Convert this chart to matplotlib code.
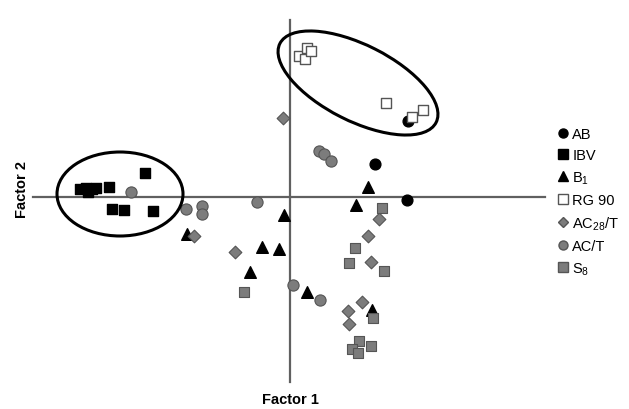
import matplotlib
matplotlib.use("Agg")
import matplotlib.pyplot as plt
from matplotlib.patches import Ellipse
from matplotlib.lines import Line2D

plt.rcParams['font.family'] = ['Liberation Sans', 'DejaVu Sans']
plt.rcParams['mathtext.fontset'] = 'custom'
plt.rcParams['mathtext.rm'] = 'Liberation Sans'
plt.rcParams['mathtext.it'] = 'Liberation Sans:italic'

# factor scores (factor 1, factor 2) per group
ab_x = [2.36, 1.70, 2.34]
ab_y = [1.52, 0.66, -0.06]

ibv_x = [-4.20, -4.08, -3.96, -4.04, -3.88, -3.62, -2.90, -3.56, -3.32, -2.74]
ibv_y = [0.16, 0.18, 0.16, 0.10, 0.18, 0.20, 0.48, -0.24, -0.26, -0.28]

b1_x = [-2.06, -0.12, -0.56, -0.22, -0.80, 1.56, 1.32, 0.34, 1.64]
b1_y = [-0.74, -0.36, -1.00, -1.04, -1.50, 0.20, -0.16, -1.90, -2.26]

rg_x = [0.18, 0.30, 0.34, 0.42, 1.92, 2.44, 2.66]
rg_y = [2.82, 2.76, 2.98, 2.92, 1.88, 1.60, 1.74]

ac28_x = [-0.14, -1.92, -1.10, 1.78, 1.56, 1.62, 1.44, 1.16, 1.18]
ac28_y = [1.58, -0.78, -1.10, -0.44, -0.78, -1.30, -2.10, -2.28, -2.54]

act_x = [-3.18, -2.08, -1.76, -1.76, -0.66, 0.06, 0.60, 0.58, 0.68, 0.82]
act_y = [0.10, -0.24, -0.18, -0.34, -0.10, -1.76, -2.06, 0.92, 0.86, 0.72]

s8_x = [-0.92, 1.84, 1.30, 1.18, 1.88, 1.66, 1.38, 1.24, 1.36, 1.62]
s8_y = [-1.90, -0.22, -1.02, -1.32, -1.48, -2.42, -2.88, -3.04, -3.12, -2.98]

labels = ['AB', 'IBV', r'B$_{\mathrm{1}}$', 'RG 90', r'AC$_{\mathrm{28}}$/T', 'AC/T', r'S$_{\mathrm{8}}$']

gray = '#7c7c7c'
gray_edge = '#555555'

fig = plt.figure(figsize=(6.29, 4.10), dpi=100)
ax = fig.add_axes([0, 0, 1, 1])
ax.set_xlim(-5.8, 6.78)
ax.set_ylim(-4.24, 3.96)
ax.axis('off')

# axes cross
ax.plot([-5.14, 5.10], [0, 0], color='#606060', lw=1.6, zorder=1)
ax.plot([0, 0], [3.54, -3.70], color='#606060', lw=1.6, zorder=1)

# cluster ellipses
ax.add_patch(Ellipse((-3.40, 0.06), 2.52, 1.68, fill=False, ec='black', lw=2.2, zorder=4))
ax.add_patch(Ellipse((1.36, 2.28), 3.50, 1.52, angle=-26.8, fill=False, ec='black', lw=2.2, zorder=4))

ax.scatter(ab_x, ab_y, marker='o', s=60, c='black', zorder=3)
ax.scatter(ibv_x, ibv_y, marker='s', s=60, c='black', zorder=3)
ax.scatter(b1_x, b1_y, marker='^', s=70, c='black', zorder=3)
ax.scatter(rg_x, rg_y, marker='s', s=60, facecolors='white', edgecolors=gray_edge, lw=1, zorder=3)
ax.scatter(ac28_x, ac28_y, marker='D', s=42, c=gray, edgecolors=gray_edge, lw=0.8, zorder=3)
ax.scatter(act_x, act_y, marker='o', s=65, c=gray, edgecolors=gray_edge, lw=0.8, zorder=3)
ax.scatter(s8_x, s8_y, marker='s', s=62, c=gray, edgecolors=gray_edge, lw=0.8, zorder=3)

ax.text(0, -4.04, 'Factor 1', ha='center', va='center', fontsize=10.5, fontweight='bold')
ax.text(-5.36, 0.16, 'Factor 2', ha='center', va='center', fontsize=10.5,
        fontweight='bold', rotation=90)

handles = [
    Line2D([], [], ls='', marker='o', ms=6.5, mfc='black', mec='black'),
    Line2D([], [], ls='', marker='s', ms=6.5, mfc='black', mec='black'),
    Line2D([], [], ls='', marker='^', ms=7, mfc='black', mec='black'),
    Line2D([], [], ls='', marker='s', ms=6.5, mfc='white', mec=gray_edge),
    Line2D([], [], ls='', marker='D', ms=5.5, mfc=gray, mec=gray_edge),
    Line2D([], [], ls='', marker='o', ms=6.5, mfc=gray, mec=gray_edge),
    Line2D([], [], ls='', marker='s', ms=6.5, mfc=gray, mec=gray_edge),
]
fig.legend(handles, labels, loc='upper left', bbox_to_anchor=(557 / 629, 1 - 128 / 410),
           frameon=False, fontsize=10.5, handlelength=0.8, handletextpad=0.25,
           labelspacing=0.5, borderpad=0, borderaxespad=0)

fig.savefig('out.png', dpi=100)
